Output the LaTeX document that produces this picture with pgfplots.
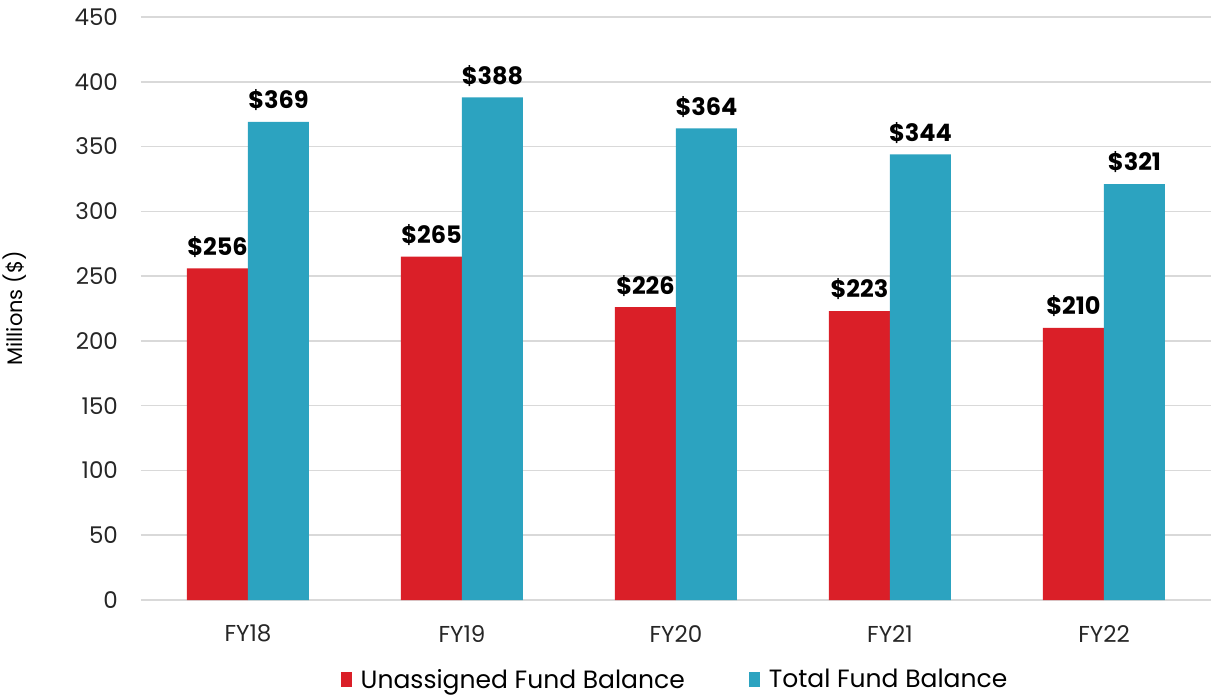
\documentclass[border=0pt]{standalone}
\usepackage{pgfplots}
\pgfplotsset{compat=1.18}
\usepackage{fontspec}
\setmainfont{Poppins}
\definecolor{cred}{HTML}{DA1F28}
\definecolor{cblue}{HTML}{2CA3C0}
\definecolor{cgrid}{HTML}{D9D9D9}
\begin{document}
\begin{tikzpicture}
\useasboundingbox (-70.5pt,-49pt) rectangle (535.5pt,300pt);
\begin{axis}[
  at={(0,0)}, anchor=south west,
  scale only axis,
  width=535pt, height=291.5pt,
  ybar, bar width=30.5pt, ybar=0pt,
  xmin=-0.5, xmax=4.5,
  ymin=0, ymax=450,
  ytick={0,50,...,450},
  xtick=data,
  xticklabels={FY18,FY19,FY20,FY21,FY22},
  /pgf/number format/assume math mode=true,
  tick label style={font=\fontsize{11.5}{13}\selectfont, text=black!85},
  ymajorgrids, grid style={cgrid, line width=0.8pt},
  axis x line*=bottom,
  x axis line style={draw=cgrid, line width=0.8pt, -},
  axis y line*=left,
  y axis line style={draw=none},
  major tick length=0pt,
  yticklabel style={xshift=-8pt},
  xticklabel style={yshift=-9pt},
  ylabel={Millions (\$)},
  every axis y label/.style={at={(axis description cs:0,0.5)}, rotate=90, anchor=center, yshift=63pt, font=\fontsize{10.5}{12}\selectfont},
  nodes near coords={\textbf{\$\pgfmathprintnumber{\pgfplotspointmeta}}},
  nodes near coords style={font=\fontsize{12}{14}\selectfont, text=black, yshift=2pt},
  legend style={at={(0.5,-0.104)}, anchor=north, draw=none, legend columns=2,
    font=\fontsize{12.5}{14}\selectfont, /tikz/every even column/.append style={column sep=30pt}},
  legend image code/.code={\fill[#1] (0pt,-3.5pt) rectangle (5.5pt,4pt); \path (8pt,0pt);},
]
\addplot[fill=cred, draw=none] coordinates {(0,256) (1,265) (2,226) (3,223) (4,210)};
\addplot[fill=cblue, draw=none] coordinates {(0,369) (1,388) (2,364) (3,344) (4,321)};
\legend{Unassigned Fund Balance, Total Fund Balance}
\end{axis}
\end{tikzpicture}
\end{document}
